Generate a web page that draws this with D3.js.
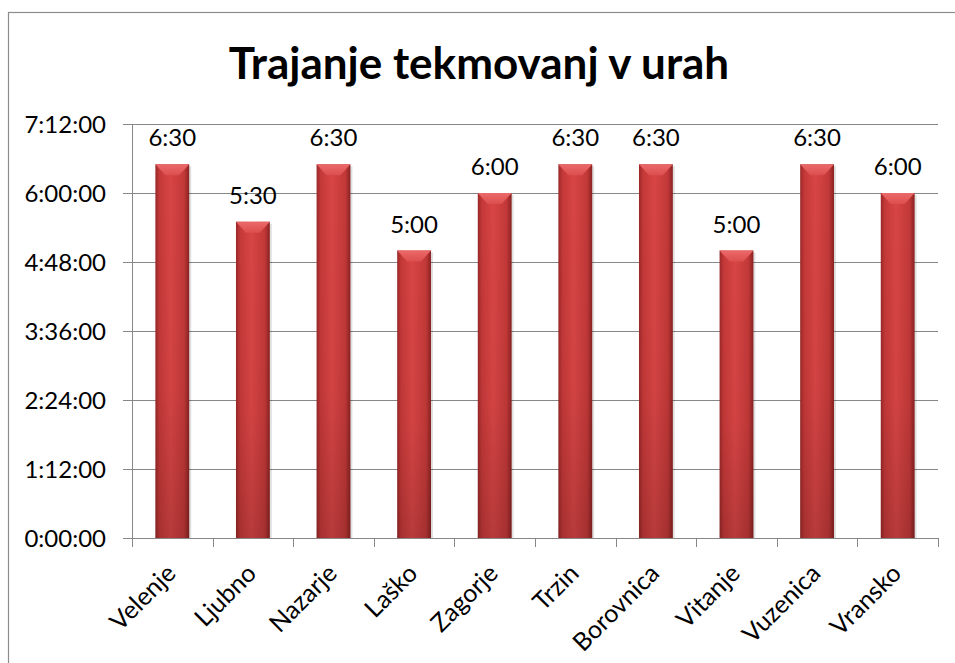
<!DOCTYPE html>
<html lang="sl">
<head>
<meta charset="UTF-8">
<script src="https://d3js.org/d3.v7.min.js"></script>
<style>
    body { margin: 0; background: #fff; }
    svg { display: block; font-family: Lato, "Open Sans", sans-serif; }
    .grid line { stroke: #878787; stroke-width: 1; }
</style>
</head>
<body>
<svg id="chart" width="955" height="663"></svg>
<script>
// data
const places = ["Velenje", "Ljubno", "Nazarje", "Laško", "Zagorje", "Trzin", "Borovnica", "Vitanje", "Vuzenica", "Vransko"];
const durations = ["6:30", "5:30", "6:30", "5:00", "6:00", "6:30", "6:30", "5:00", "6:30", "6:00"];
const yTicks = ["0:00:00", "1:12:00", "2:24:00", "3:36:00", "4:48:00", "6:00:00", "7:12:00"];
const title = "Trajanje tekmovanj v urah";

// "h:mm(:ss)" -> hours
const toHours = s => {
    const p = s.split(":").map(Number);
    return p[0] + (p[1] || 0) / 60 + (p[2] || 0) / 3600;
};

const svg = d3.select("#chart");
const plotLeft = 132, plotRight = 938, plotTop = 124, plotBottom = 538;

// chart frame (cut off on right and bottom like the source)
svg.append("rect")
    .attr("x", 8.5).attr("y", 12.5)
    .attr("width", 1000).attr("height", 700)
    .attr("fill", "none").attr("stroke", "#8c8c8c").attr("stroke-width", 1.2);

svg.append("text")
    .attr("x", 479).attr("y", 79)
    .attr("text-anchor", "middle")
    .style("font-size", "44px").style("font-weight", "bold")
    .text(title);

const x = d3.scaleBand().domain(places).range([plotLeft, plotRight]).paddingInner(0.58).paddingOuter(0.29);
const y = d3.scaleLinear().domain([0, toHours(yTicks[yTicks.length - 1])]).range([plotBottom, plotTop]);

// bar gradients
const defs = svg.append("defs");
const g1 = defs.append("linearGradient").attr("id", "barGrad").attr("x1", 0).attr("x2", 1).attr("y1", 0).attr("y2", 0);
g1.append("stop").attr("offset", "0%").attr("stop-color", "#992828");
g1.append("stop").attr("offset", "12%").attr("stop-color", "#c43838");
g1.append("stop").attr("offset", "45%").attr("stop-color", "#d84545");
g1.append("stop").attr("offset", "85%").attr("stop-color", "#c23838");
g1.append("stop").attr("offset", "100%").attr("stop-color", "#8a2222");
const g2 = defs.append("linearGradient").attr("id", "shadeGrad").attr("x1", 0).attr("x2", 0).attr("y1", 0).attr("y2", 1);
g2.append("stop").attr("offset", "0%").attr("stop-color", "#000").attr("stop-opacity", 0);
g2.append("stop").attr("offset", "60%").attr("stop-color", "#000").attr("stop-opacity", 0.03);
g2.append("stop").attr("offset", "100%").attr("stop-color", "#000").attr("stop-opacity", 0.15);
const g3 = defs.append("linearGradient").attr("id", "topGrad").attr("x1", 0).attr("x2", 0).attr("y1", 0).attr("y2", 1);
g3.append("stop").attr("offset", "0%").attr("stop-color", "#ec6a6a");
g3.append("stop").attr("offset", "100%").attr("stop-color", "#dc4e4e");

// gridlines + y axis
const tickVals = yTicks.map(toHours);
svg.append("g").attr("class", "grid")
    .selectAll("line").data(tickVals).join("line")
    .attr("x1", plotLeft - 9).attr("x2", plotRight)
    .attr("y1", d => Math.round(y(d)) + 0.5).attr("y2", d => Math.round(y(d)) + 0.5);

svg.append("line")
    .attr("x1", plotLeft + 0.5).attr("x2", plotLeft + 0.5)
    .attr("y1", plotTop).attr("y2", plotBottom)
    .attr("stroke", "#878787");

svg.append("g")
    .selectAll("text").data(yTicks).join("text")
    .attr("x", 106).attr("y", d => y(toHours(d)))
    .attr("dy", "0.36em")
    .attr("text-anchor", "end")
    .style("font-size", "24px")
    .text(d => d);

// x axis ticks at category boundaries
const bounds = places.map(p => x(p) - x.step() * x.paddingInner() / 2).concat([plotRight]);
svg.append("g")
    .selectAll("line").data(bounds).join("line")
    .attr("x1", d => Math.round(d) + 0.5).attr("x2", d => Math.round(d) + 0.5)
    .attr("y1", plotBottom).attr("y2", plotBottom + 9)
    .attr("stroke", "#878787");

// bars
const bars = svg.append("g").selectAll("g").data(places).join("g");
const val = i => toHours(durations[i]);
bars.append("rect")
    .attr("x", d => x(d) + 2).attr("y", (d, i) => y(val(i)) + 2)
    .attr("width", x.bandwidth()).attr("height", (d, i) => plotBottom - y(val(i)) - 2)
    .attr("fill", "#000").attr("opacity", 0.12);
bars.append("rect")
    .attr("x", d => x(d)).attr("y", (d, i) => y(val(i)))
    .attr("width", x.bandwidth()).attr("height", (d, i) => plotBottom - y(val(i)))
    .attr("fill", "url(#barGrad)");
bars.append("rect")
    .attr("x", d => x(d)).attr("y", (d, i) => y(val(i)))
    .attr("width", x.bandwidth()).attr("height", (d, i) => plotBottom - y(val(i)))
    .attr("fill", "url(#shadeGrad)");
bars.append("polygon")
    .attr("points", (d, i) => {
        const x0 = x(d), x1 = x(d) + x.bandwidth(), t = y(val(i)), b = 10, h = 11;
        return [[x0, t], [x1, t], [x1 - b, t + h], [x0 + b, t + h]].map(p => p.join(",")).join(" ");
    })
    .attr("fill", "url(#topGrad)");

// axis line drawn over bars
svg.append("line")
    .attr("x1", plotLeft).attr("x2", plotRight)
    .attr("y1", plotBottom + 0.5).attr("y2", plotBottom + 0.5)
    .attr("stroke", "#878787");

// value labels
bars.append("text")
    .attr("x", d => x(d) + x.bandwidth() / 2)
    .attr("y", (d, i) => y(val(i)) - 18)
    .attr("text-anchor", "middle")
    .style("font-size", "24px")
    .text((d, i) => durations[i]);

// category labels
svg.append("g")
    .selectAll("text").data(places).join("text")
    .attr("transform", d => `translate(${x(d) + x.bandwidth() / 2 + 5},${plotBottom + 37}) rotate(-45)`)
    .attr("text-anchor", "end")
    .style("font-size", "25px")
    .text(d => d);
</script>
</body>
</html>
